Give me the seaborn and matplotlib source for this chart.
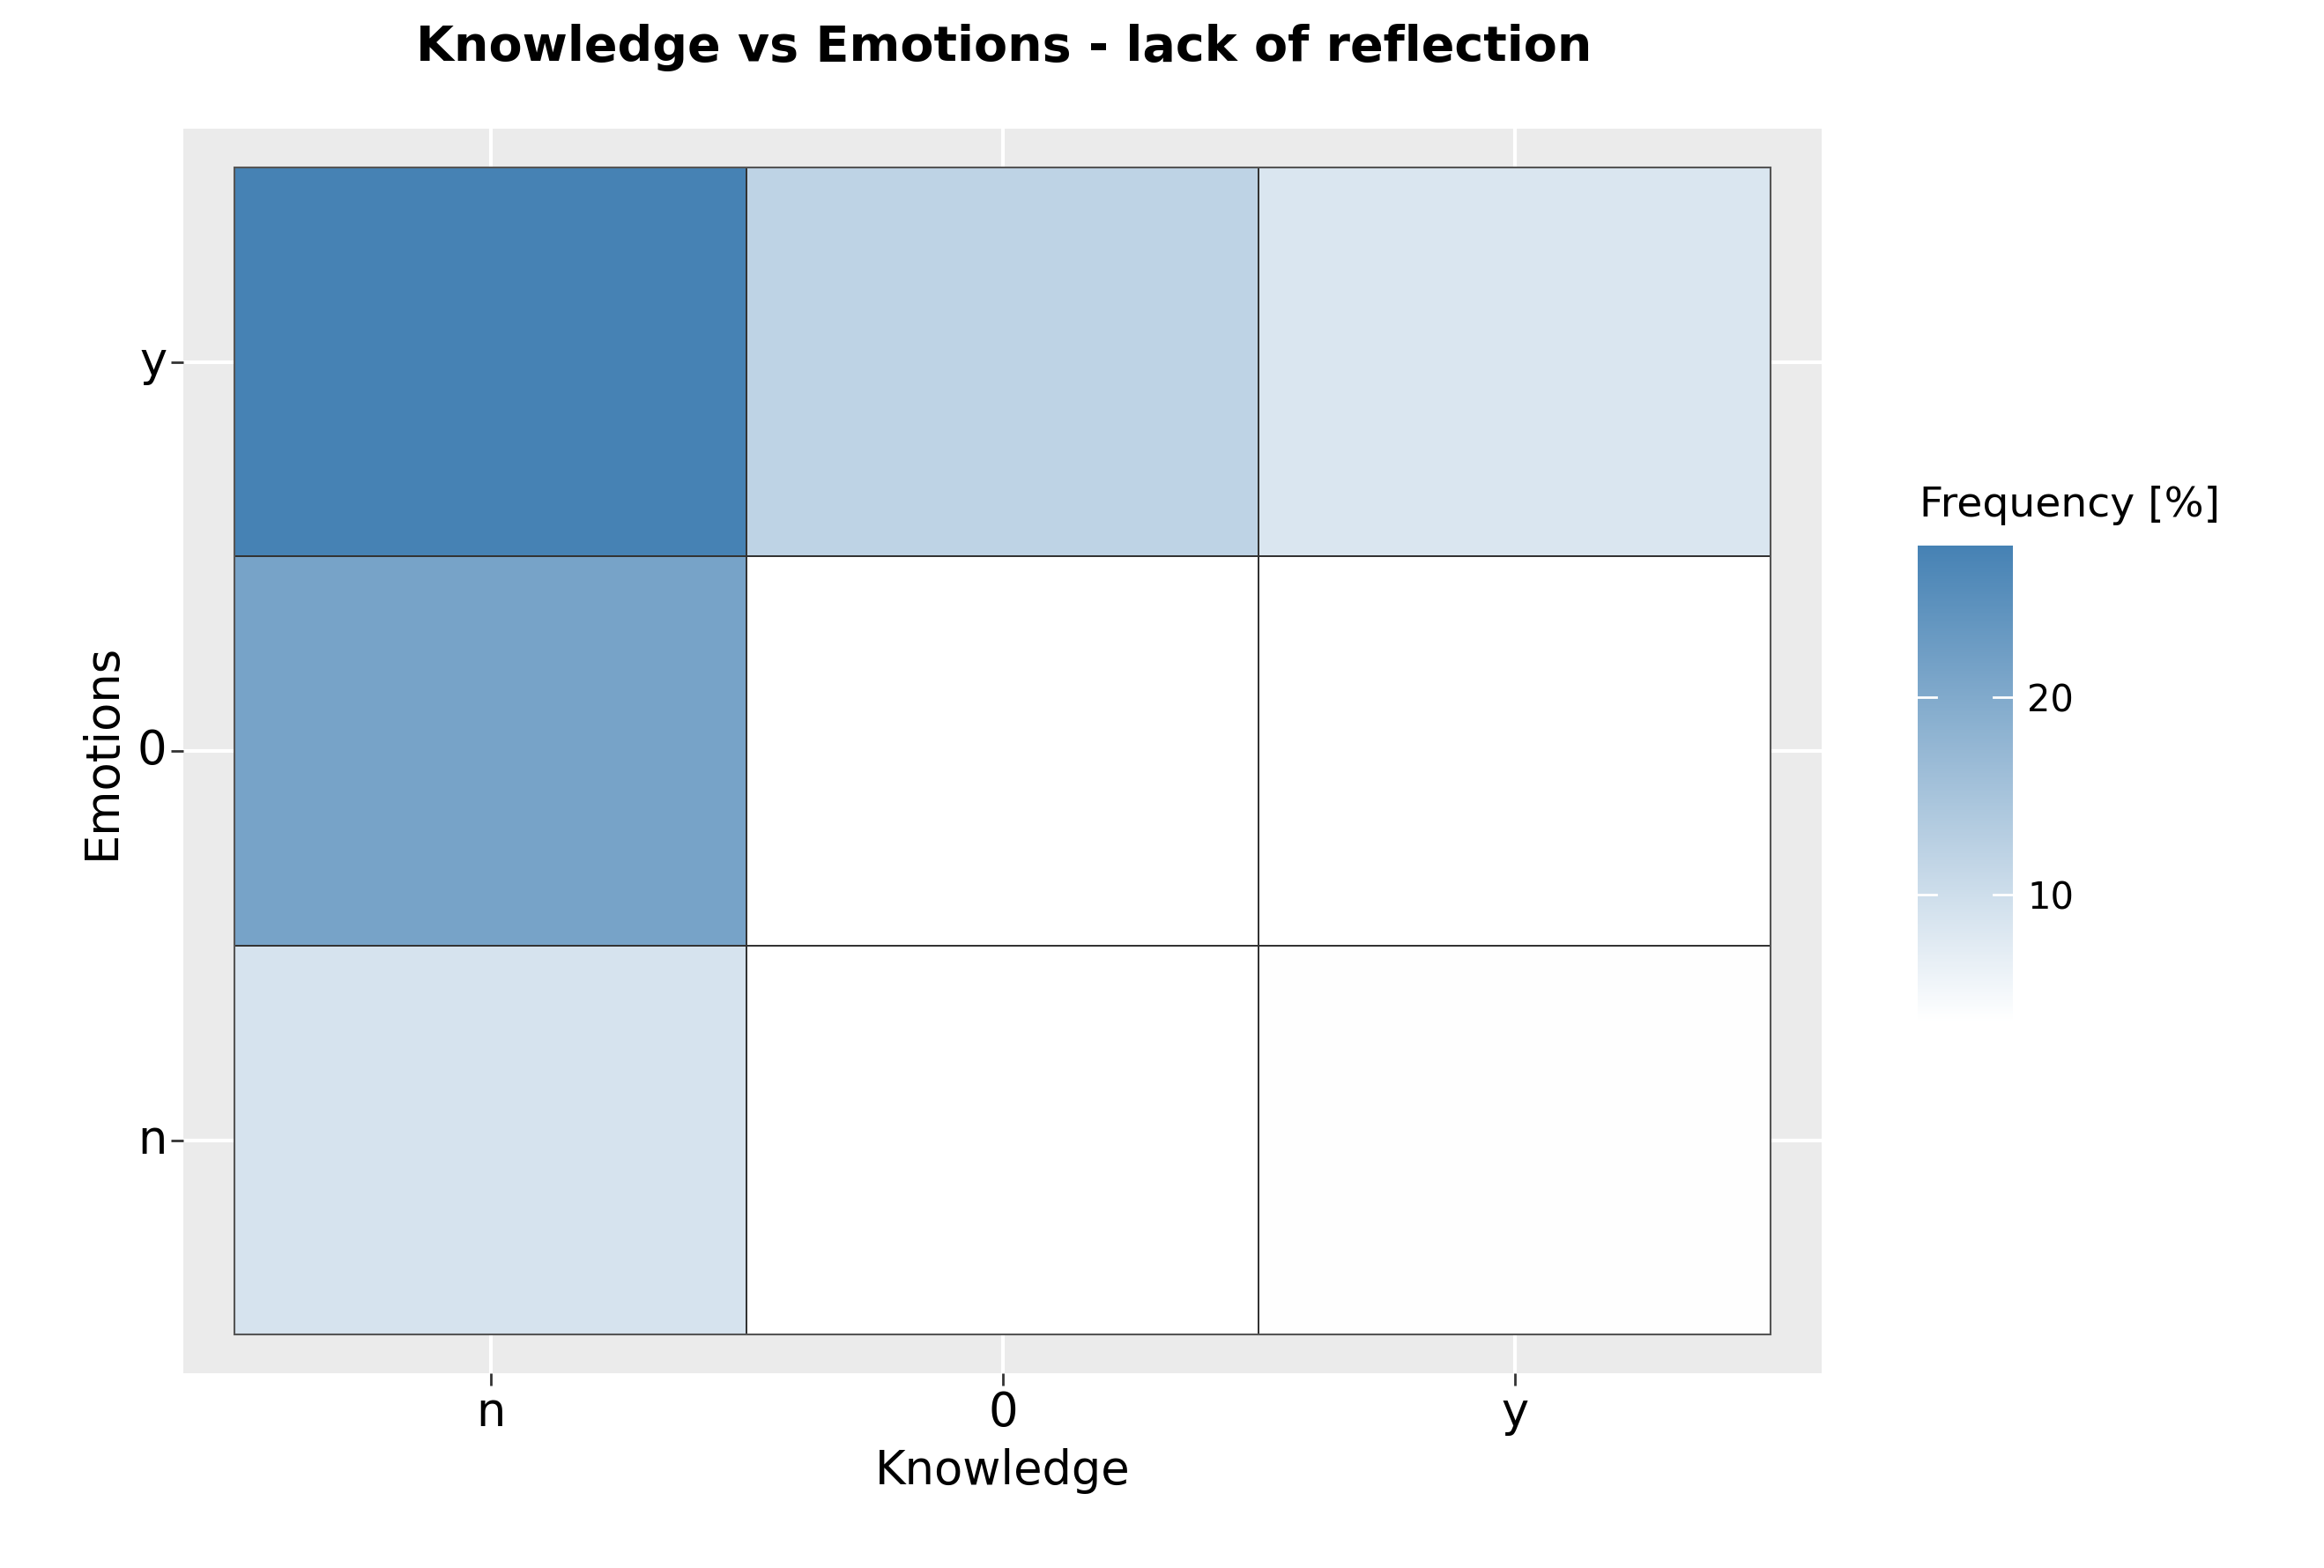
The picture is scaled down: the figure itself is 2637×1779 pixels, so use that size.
import numpy as np
import pandas as pd
import seaborn as sns
import matplotlib
matplotlib.use("Agg")
import matplotlib.pyplot as plt
from matplotlib.colors import LinearSegmentedColormap

knowledge = ["n", "0", "y"]
emotions = ["y", "0", "n"]  # top to bottom
row_y = [27.7, 12.0, 8.4]
row_0 = [21.3, np.nan, np.nan]
row_n = [8.9, np.nan, 3.7]

df = pd.DataFrame([row_y, row_0, row_n], index=emotions, columns=knowledge)

fig = plt.figure(figsize=(26.37, 17.79), dpi=100)
ax = fig.add_axes([0.079, 0.124, 0.705, 0.794])
cax = fig.add_axes([0.825, 0.348, 0.041, 0.304])
cmap = LinearSegmentedColormap.from_list("g", ["#ffffff", "#4682B4"])
ax.set_facecolor("#EBEBEB")
sns.heatmap(df, ax=ax, cmap=cmap, linewidths=1.2, linecolor="#333333",
            cbar_ax=cax, mask=df.isna(), vmin=3.5, vmax=27.7)
# NA cells white
for i in range(3):
    for j in range(3):
        if np.isnan(df.values[i, j]):
            ax.add_patch(plt.Rectangle((j, i), 1, 1, facecolor="white",
                                       edgecolor="#333333", lw=1.2, zorder=0.5))
ax.add_patch(plt.Rectangle((0, 0), 3, 3, fill=False, edgecolor="#555555", lw=1.5, zorder=3))
ax.set_xlim(-0.1, 3.1)
ax.set_ylim(3.1, -0.1)
for p in [0.5, 1.5, 2.5]:
    ax.axvline(p, color="white", lw=3, zorder=0.1)
    ax.axhline(p, color="white", lw=3, zorder=0.1)
for s in ax.spines.values():
    s.set_visible(False)
ax.tick_params(axis="both", labelsize=38, length=10, width=2, color="#333333", labelcolor="black")
ax.set_yticklabels(emotions, rotation=0)
ax.set_xticklabels(knowledge, rotation=0)
ax.set_xlabel("Knowledge", fontsize=38, labelpad=10)
ax.set_ylabel("Emotions", fontsize=38, labelpad=10)
fig.suptitle("Knowledge vs Emotions - lack of reflection", fontsize=40,
             fontweight="bold", x=0.432, y=0.985)
cax.set_yticks([10, 20])
cax.tick_params(labelsize=30, length=0, pad=12)
for t in [10, 20]:
    cax.axhline(t, xmin=0, xmax=0.2, color="white", lw=2)
    cax.axhline(t, xmin=0.8, xmax=1, color="white", lw=2)
for s in cax.spines.values():
    s.set_visible(False)
fig.text(0.826, 0.665, "Frequency [%]", fontsize=34, ha="left", va="bottom")
fig.savefig("out.png", dpi=100)
